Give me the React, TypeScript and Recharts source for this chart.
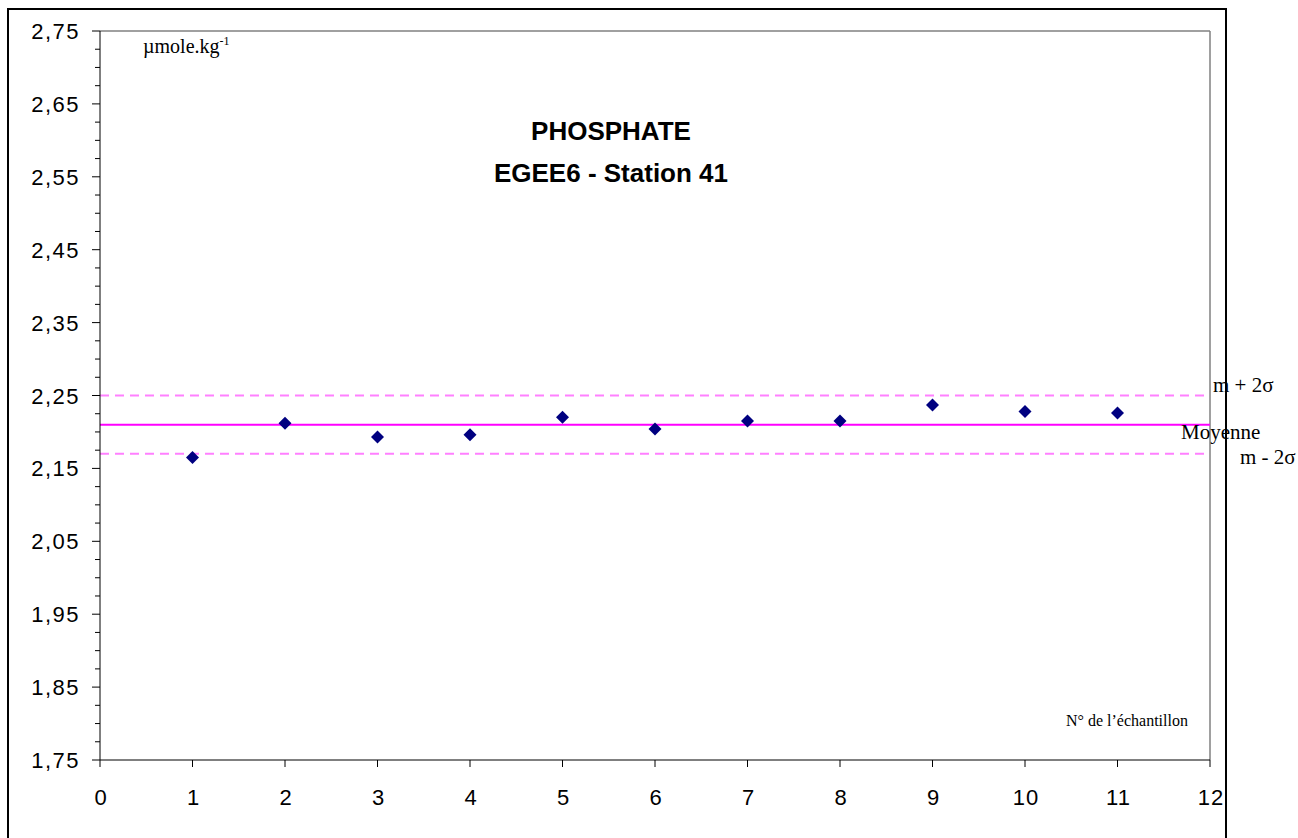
import React from 'react';
import { ScatterChart, Scatter, XAxis, YAxis, ReferenceLine } from 'recharts';

// N° de l'échantillon et concentration en phosphate (µmole/kg)
const sampleNumbers = [1, 2, 3, 4, 5, 6, 7, 8, 9, 10, 11];
const phosphateValues = [2.165, 2.212, 2.193, 2.196, 2.22, 2.204, 2.215, 2.215, 2.237, 2.228, 2.226];

// Moyenne et limites m ± 2σ
const meanValue = 2.21;
const upperLimit = 2.25;
const lowerLimit = 2.17;

const xTicks = [0, 1, 2, 3, 4, 5, 6, 7, 8, 9, 10, 11, 12];
const yMajorTicks = [1.75, 1.85, 1.95, 2.05, 2.15, 2.25, 2.35, 2.45, 2.55, 2.65, 2.75];

const titleLines = ['PHOSPHATE', 'EGEE6 - Station 41'];

const data = sampleNumbers.map((n, i) => ({ x: n, y: phosphateValues[i] }));

// graduations secondaires tous les 0,025
const yTicks: number[] = [];
for (let i = 0; i < yMajorTicks.length - 1; i++) {
  for (let k = 0; k < 4; k++) {
    yTicks.push(Math.round((yMajorTicks[i] + k * 0.025) * 1000) / 1000);
  }
}
yTicks.push(yMajorTicks[yMajorTicks.length - 1]);

const isMajor = (v: number) => yMajorTicks.some(t => Math.abs(t - v) < 1e-6);
const fmt = (v: number) => v.toFixed(2).replace('.', ',');

const sansFont = '"Liberation Sans", Arial, sans-serif';
const serifFont = '"Liberation Serif", "Times New Roman", serif';

const YTick = (props: any) => {
  const { x, y, payload } = props;
  const major = isMajor(payload.value);
  return (
    <g>
      <line x1={x - (major ? 8 : 5)} x2={x} y1={y} y2={y} stroke="#000" strokeWidth={1} />
      {major && (
        <text x={x - 20} y={y} dy={8} textAnchor="end" fontFamily={sansFont} fontSize={22} letterSpacing={1.5} fill="#000">
          {fmt(payload.value)}
        </text>
      )}
    </g>
  );
};

const XTick = (props: any) => {
  const { x, y, payload } = props;
  return (
    <g>
      <line x1={x} x2={x} y1={y} y2={y + 7} stroke="#000" strokeWidth={1} />
      <text x={x + 1} y={y + 45} textAnchor="middle" fontFamily={sansFont} fontSize={22} letterSpacing={1} fill="#000">
        {payload.value}
      </text>
    </g>
  );
};

const Diamond = (props: any) => {
  const { cx, cy } = props;
  const r = 6.5;
  return <polygon points={`${cx},${cy - r} ${cx + r},${cy} ${cx},${cy + r} ${cx - r},${cy}`} fill="#000080" />;
};

const refLabel = (text: string, dx: number, dy: number) => (props: any) => {
  const { viewBox } = props;
  return (
    <text x={viewBox.x + viewBox.width + dx} y={viewBox.y + dy} fontFamily={serifFont} fontSize={21} fill="#000">
      {text}
    </text>
  );
};

export default function App() {
  return (
    <div style={{ position: 'fixed', left: 0, top: 0, width: 1298, height: 838, overflow: 'hidden', background: '#fff' }}>
      <div style={{ position: 'absolute', left: 7, top: 8, width: 1220, height: 840, border: '2px solid #000', boxSizing: 'border-box' }} />
      <ScatterChart
        width={1298}
        height={838}
        margin={{ top: 31, right: 88, bottom: 38, left: 0 }}
        style={{ position: 'absolute', left: 0, top: 0 }}
      >
        <XAxis
          type="number"
          dataKey="x"
          domain={[0, 12]}
          ticks={xTicks}
          interval={0}
          height={40}
          tickSize={0}
          tickMargin={0}
          tick={<XTick />}
          axisLine={{ stroke: '#000', strokeWidth: 1 }}
          allowDataOverflow
        />
        <YAxis
          type="number"
          dataKey="y"
          domain={[1.75, 2.75]}
          ticks={yTicks}
          interval={0}
          width={100}
          tickSize={0}
          tickMargin={0}
          tick={<YTick />}
          axisLine={{ stroke: '#000', strokeWidth: 1 }}
          allowDataOverflow
        />
        {/* cadre de la zone de tracé */}
        <ReferenceLine y={2.75} stroke="#808080" strokeWidth={1.5} />
        <ReferenceLine x={12} stroke="#808080" strokeWidth={1.5} />

        <ReferenceLine y={upperLimit} stroke="#FF80FF" strokeWidth={2} strokeDasharray="9 6" label={refLabel('m + 2σ', 3, -4)} />
        <ReferenceLine y={meanValue} stroke="#FF00FF" strokeWidth={2} label={refLabel('Moyenne', -29, 14)} />
        <ReferenceLine y={lowerLimit} stroke="#FF80FF" strokeWidth={2} strokeDasharray="9 6" label={refLabel('m - 2σ', 30, 10)} />

        <Scatter data={data} shape={<Diamond />} isAnimationActive={false} />
      </ScatterChart>

      {/* titre */}
      <div style={{ position: 'absolute', left: 411, width: 400, top: 110, textAlign: 'center', fontFamily: sansFont, fontWeight: 'bold', fontSize: 26, lineHeight: '42px' }}>
        {titleLines.map(t => <div key={t}>{t}</div>)}
      </div>

      {/* unité */}
      <div style={{ position: 'absolute', left: 143, top: 34, fontFamily: serifFont, fontSize: 20 }}>
        µmole.kg<sup style={{ fontSize: 12 }}>-1</sup>
      </div>

      {/* titre axe X */}
      <div style={{ position: 'absolute', left: 1066, top: 712, fontFamily: serifFont, fontSize: 16 }}>
        N° de l’échantillon
      </div>
    </div>
  );
}
